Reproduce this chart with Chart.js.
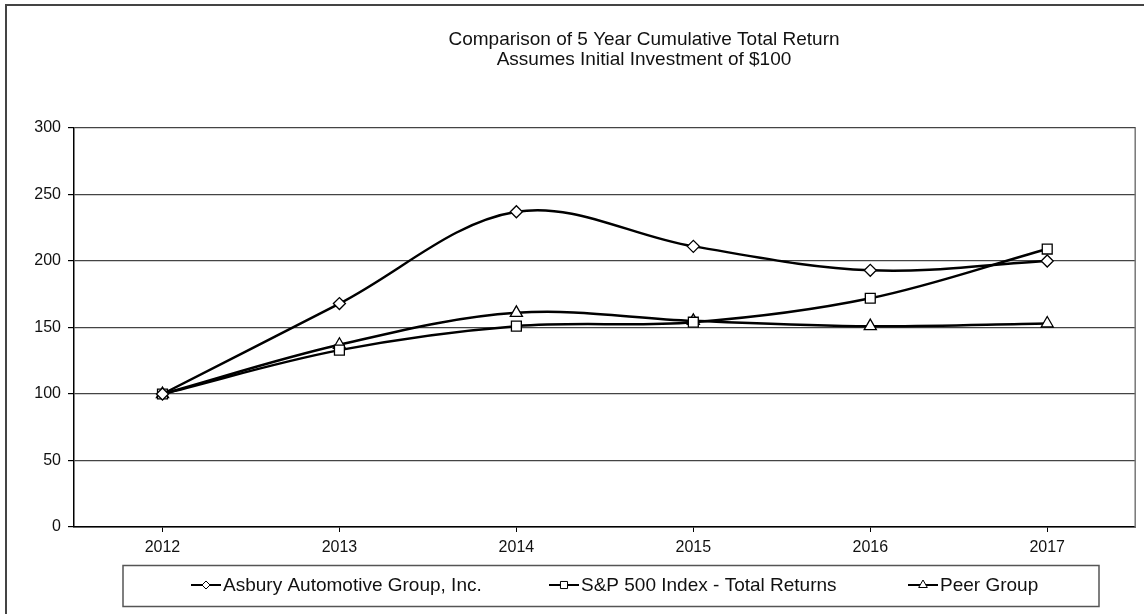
<!DOCTYPE html>
<html>
<head>
<meta charset="utf-8">
<script src="https://cdn.jsdelivr.net/npm/chart.js@4.4.0/dist/chart.umd.min.js"></script>
<style>
  html, body { margin: 0; padding: 0; background: #fff; }
  #wrap { position: relative; width: 1144px; height: 614px; }
</style>
</head>
<body>
<div id="wrap"><canvas id="returnsChart" width="1144" height="614"></canvas></div>
<script>
// chart data
const years = ["2012", "2013", "2014", "2015", "2016", "2017"];
const asbury = [100, 168, 237, 211, 193, 200];
const sp500 = [100, 133, 151, 154, 172, 209];
const peerGroup = [100, 137, 161, 155, 151, 153];
const yTicks = [0, 50, 100, 150, 200, 250, 300];
const seriesNames = ["Asbury Automotive Group, Inc.", "S&P 500 Index - Total Returns", "Peer Group"];
const titleLines = ["Comparison of 5 Year Cumulative Total Return", "Assumes Initial Investment of $100"];

const FONT = '"Liberation Sans", Arial, sans-serif';

// frame, title, plot border and boxed legend
const decorPlugin = {
  id: "decor",
  afterDraw(chart) {
    const ctx = chart.ctx;
    const area = chart.chartArea;
    ctx.save();

    // outer border (top + left)
    ctx.strokeStyle = "#444";
    ctx.lineWidth = 2;
    ctx.beginPath();
    ctx.moveTo(6, 614);
    ctx.lineTo(6, 5);
    ctx.lineTo(1144, 5);
    ctx.stroke();

    // plot area right edge
    ctx.strokeStyle = "#777";
    ctx.lineWidth = 1.5;
    ctx.beginPath();
    ctx.moveTo(area.right - 0.5, area.top);
    ctx.lineTo(area.right - 0.5, area.bottom);
    ctx.stroke();

    // title
    ctx.fillStyle = "#111";
    ctx.font = "19px " + FONT;
    ctx.textAlign = "center";
    ctx.textBaseline = "alphabetic";
    ctx.fillText(titleLines[0], 644, 45);
    ctx.fillText(titleLines[1], 644, 65);

    // legend box
    ctx.strokeStyle = "#555";
    ctx.lineWidth = 1.5;
    ctx.strokeRect(123, 565.5, 976, 41);

    const textX = [223, 581, 940];
    const ly = 585;
    ctx.textAlign = "left";
    ctx.textBaseline = "middle";
    chart.data.datasets.forEach((ds, i) => {
      const x0 = textX[i] - 32;
      ctx.strokeStyle = "#000";
      ctx.lineWidth = 2;
      ctx.beginPath();
      ctx.moveTo(x0, ly);
      ctx.lineTo(textX[i] - 2, ly);
      ctx.stroke();
      ctx.fillStyle = "#fff";
      ctx.strokeStyle = "#000";
      ctx.lineWidth = 1;
      Chart.helpers.drawPoint(ctx, {
        pointStyle: ds.pointStyle,
        radius: ds.pointStyle === "rectRot" ? 4 : 5,
        rotation: 0,
        borderWidth: 1
      }, x0 + 15, ly);
      ctx.fillStyle = "#111";
      ctx.font = "19px " + FONT;
      ctx.fillText(ds.label, textX[i], ly + 1);
    });
    ctx.restore();
  }
};

const common = {
  borderColor: "#000",
  borderWidth: 2.5,
  pointBackgroundColor: "#fff",
  pointBorderColor: "#000",
  pointBorderWidth: 1.3,
  tension: 0.35,
  fill: false
};

new Chart(document.getElementById("returnsChart"), {
  type: "line",
  data: {
    labels: years,
    datasets: [
      { ...common, label: seriesNames[0], data: asbury, pointStyle: "rectRot", pointRadius: 6 },
      { ...common, label: seriesNames[1], data: sp500, pointStyle: "rect", pointRadius: 7 },
      { ...common, label: seriesNames[2], data: peerGroup, pointStyle: "triangle", pointRadius: 7 }
    ]
  },
  options: {
    responsive: false,
    animation: false,
    layout: { padding: { left: 0, right: 6, top: 128, bottom: 47 } },
    plugins: {
      legend: { display: false },
      title: { display: false },
      tooltip: { enabled: false }
    },
    scales: {
      x: {
        offset: true,
        grid: { drawOnChartArea: false, drawTicks: true, tickLength: 5, offset: false, color: "#000" },
        border: { color: "#000", width: 1.5 },
        ticks: { color: "#111", font: { family: FONT, size: 16 }, padding: 6, maxRotation: 0 },
        afterFit(scale) { scale.height = 40; }
      },
      y: {
        min: 0,
        max: 300,
        afterBuildTicks(scale) { scale.ticks = yTicks.map(v => ({ value: v })); },
        grid: { color: "#444", lineWidth: 1.2, tickLength: 6, tickColor: "#000" },
        border: { color: "#000", width: 1.5 },
        ticks: { color: "#111", font: { family: FONT, size: 16 }, padding: 7 },
        afterFit(scale) { scale.width = 74; }
      }
    }
  },
  plugins: [decorPlugin]
});
</script>
</body>
</html>
